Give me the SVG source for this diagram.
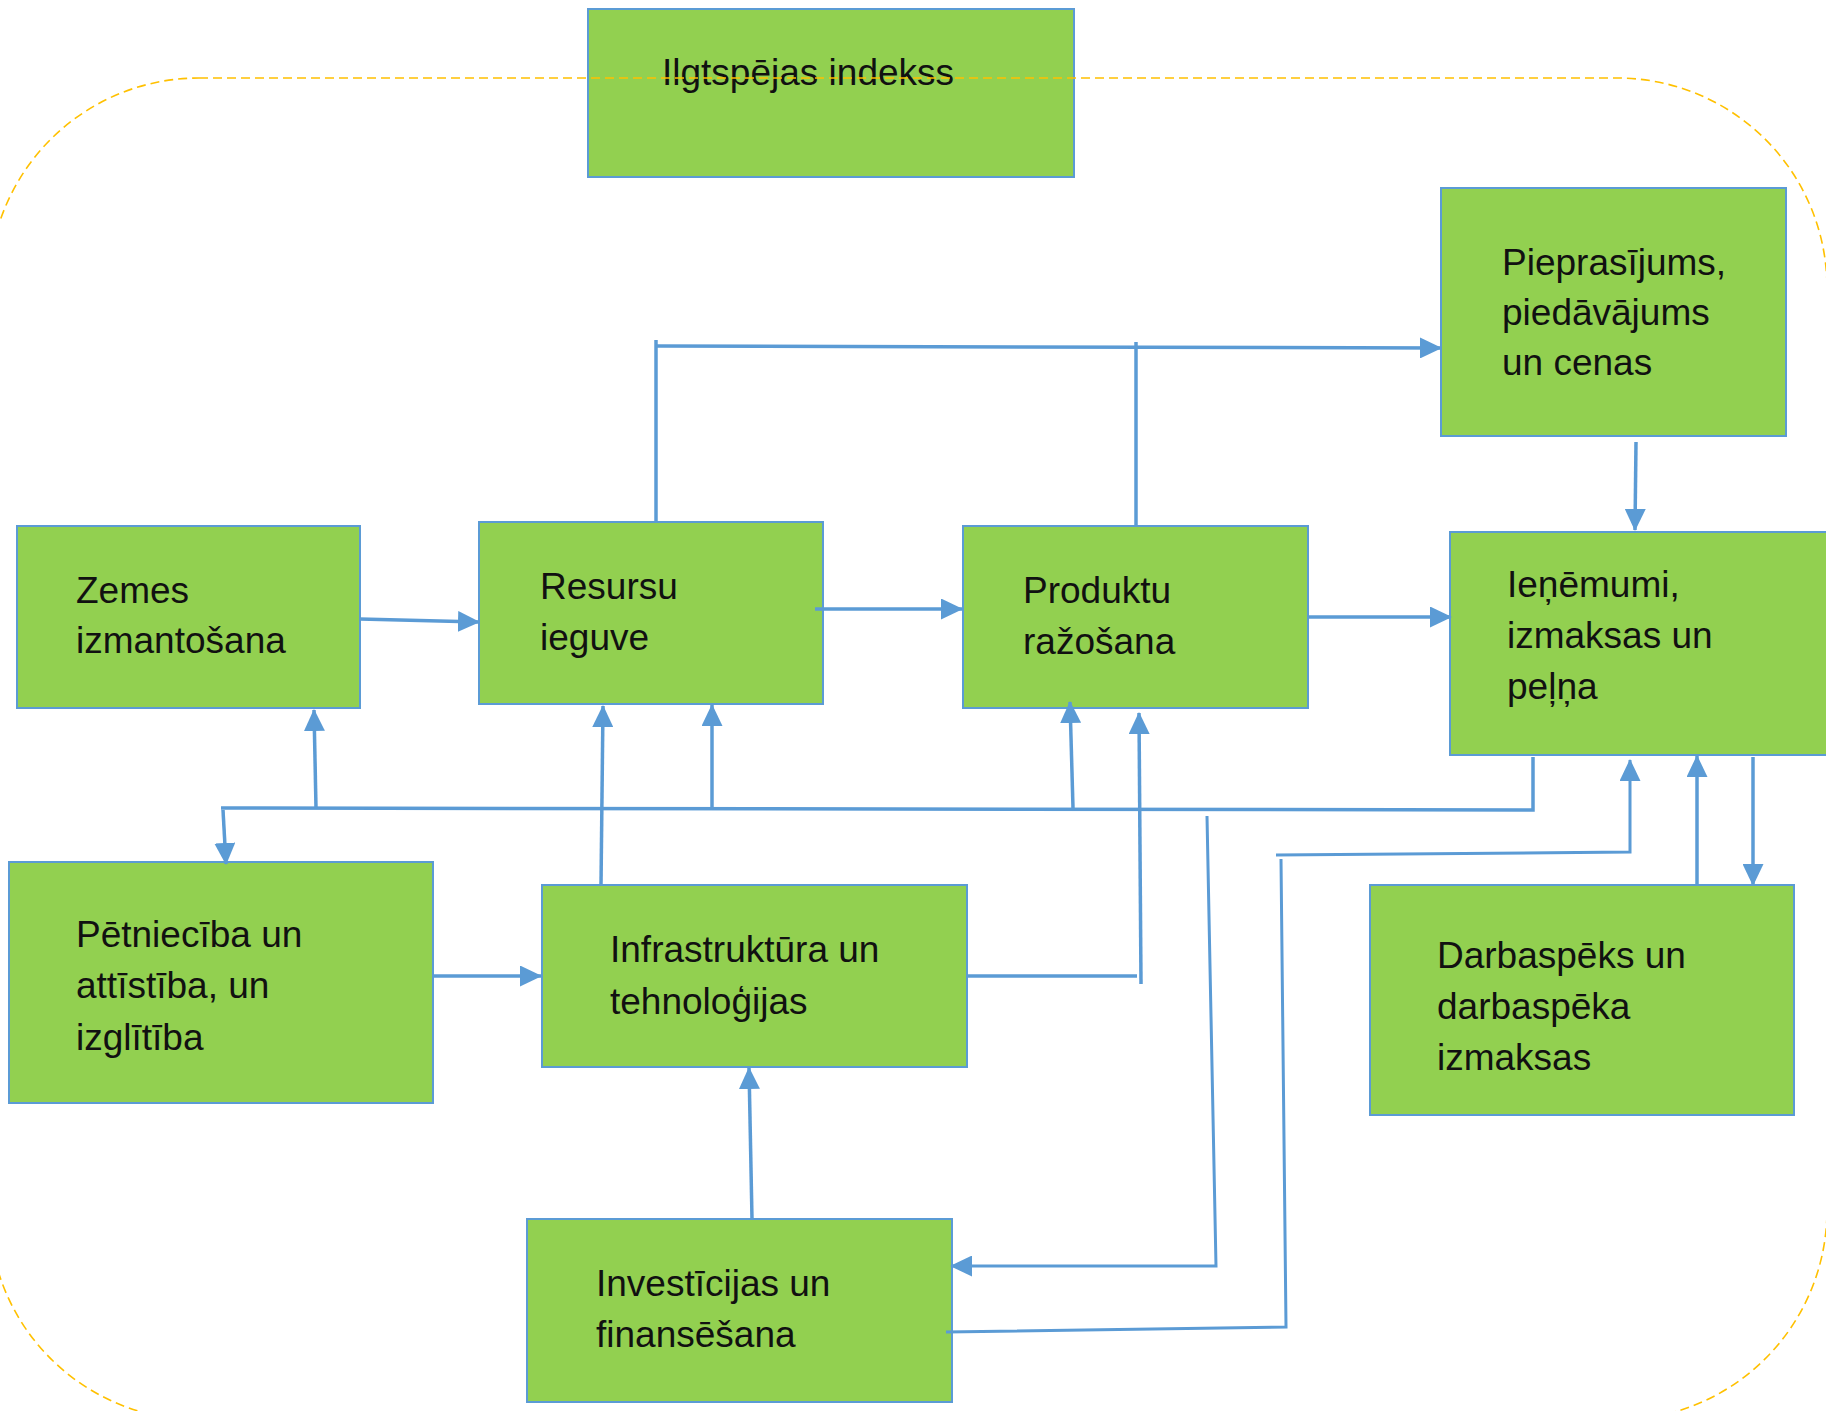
<svg xmlns="http://www.w3.org/2000/svg" width="1826" height="1411" viewBox="0 0 1826 1411">
<style>
.box{fill:#92D050;stroke:#5B9BD5;stroke-width:2}
.lbl{font-family:"Liberation Sans",Arial,sans-serif;font-size:37px;fill:#111}
.ln{fill:none;stroke:#5B9BD5;stroke-width:3.5}
.ln2{fill:none;stroke:#5B9BD5;stroke-width:3}
.arr{marker-end:url(#ah)}
.frame{fill:none;stroke:#FFC000;stroke-width:1.6;stroke-dasharray:9 5}
</style>
<defs>
<marker id="ah" markerUnits="userSpaceOnUse" markerWidth="22" markerHeight="21" refX="21" refY="10.5" orient="auto">
<path d="M0,0 L22,10.5 L0,21 Z" fill="#5B9BD5"/>
</marker>
</defs>
<rect width="1826" height="1411" fill="#fff"/>

<g id="node-ilgtspejas">
<rect class="box" x="588" y="9" width="486" height="168"/>
<text class="lbl" x="662" y="85">Ilgtspējas indekss</text>
</g>
<g id="node-pieprasijums">
<rect class="box" x="1441" y="188" width="345" height="248"/>
<text class="lbl" x="1502" y="275">Pieprasījums,</text>
<text class="lbl" x="1502" y="325">piedāvājums</text>
<text class="lbl" x="1502" y="375">un cenas</text>
</g>
<g id="node-zemes">
<rect class="box" x="17" y="526" width="343" height="182"/>
<text class="lbl" x="76" y="603">Zemes</text>
<text class="lbl" x="76" y="653">izmantošana</text>
</g>
<g id="node-resursu">
<rect class="box" x="479" y="522" width="344" height="182"/>
<text class="lbl" x="540" y="599">Resursu</text>
<text class="lbl" x="540" y="650">ieguve</text>
</g>
<g id="node-produktu">
<rect class="box" x="963" y="526" width="345" height="182"/>
<text class="lbl" x="1023" y="603">Produktu</text>
<text class="lbl" x="1023" y="654">ražošana</text>
</g>
<g id="node-ienemumi">
<rect class="box" x="1450" y="532" width="390" height="223"/>
<text class="lbl" x="1507" y="597">Ieņēmumi,</text>
<text class="lbl" x="1507" y="648">izmaksas un</text>
<text class="lbl" x="1507" y="699">peļņa</text>
</g>
<g id="node-petnieciba">
<rect class="box" x="9" y="862" width="424" height="241"/>
<text class="lbl" x="76" y="947">Pētniecība un</text>
<text class="lbl" x="76" y="998">attīstība, un</text>
<text class="lbl" x="76" y="1050">izglītība</text>
</g>
<g id="node-infrastruktura">
<rect class="box" x="542" y="885" width="425" height="182"/>
<text class="lbl" x="610" y="962">Infrastruktūra un</text>
<text class="lbl" x="610" y="1014">tehnoloģijas</text>
</g>
<g id="node-investicijas">
<rect class="box" x="527" y="1219" width="425" height="183"/>
<text class="lbl" x="596" y="1296">Investīcijas un</text>
<text class="lbl" x="596" y="1347">finansēšana</text>
</g>
<g id="node-darbaspeks">
<rect class="box" x="1370" y="885" width="424" height="230"/>
<text class="lbl" x="1437" y="968">Darbaspēks un</text>
<text class="lbl" x="1437" y="1019">darbaspēka</text>
<text class="lbl" x="1437" y="1070">izmaksas</text>
</g>

<g id="connectors">
<line class="ln arr" x1="360" y1="619" x2="479" y2="622"/>
<line class="ln arr" x1="815" y1="609" x2="962" y2="609"/>
<line class="ln arr" x1="1308" y1="617" x2="1451" y2="617"/>
<line class="ln" x1="656" y1="522" x2="656" y2="340"/>
<line class="ln" x1="1136" y1="526" x2="1136" y2="342"/>
<line class="ln arr" x1="656" y1="346" x2="1441" y2="348"/>
<line class="ln arr" x1="1636" y1="442" x2="1635" y2="530"/>
<polyline class="ln" points="1533,757 1533,810 221,808"/>
<line class="ln arr" x1="223" y1="810" x2="226" y2="864"/>
<line class="ln arr" x1="316" y1="808" x2="314" y2="710"/>
<line class="ln arr" x1="712" y1="808" x2="712" y2="705"/>
<line class="ln arr" x1="1073" y1="808" x2="1070" y2="702"/>
<line class="ln arr" x1="601" y1="885" x2="603" y2="706"/>
<line class="ln" x1="967" y1="976" x2="1137" y2="976"/>
<line class="ln arr" x1="1141" y1="984" x2="1139" y2="713"/>
<line class="ln arr" x1="433" y1="976" x2="541" y2="976"/>
<line class="ln arr" x1="752" y1="1219" x2="749" y2="1068"/>
<polyline class="ln2 arr" points="1207,816 1216,1266 951,1266"/>
<polyline class="ln2" points="946,1332 1286,1327 1281,859"/>
<polyline class="ln2 arr" points="1276,855 1630,852 1630,760"/>
<line class="ln arr" x1="1697" y1="885" x2="1697" y2="756"/>
<line class="ln arr" x1="1753" y1="757" x2="1753" y2="885"/>
</g>

<rect class="frame" x="-11" y="78" width="1838" height="1342" rx="210" ry="210"/>
</svg>
